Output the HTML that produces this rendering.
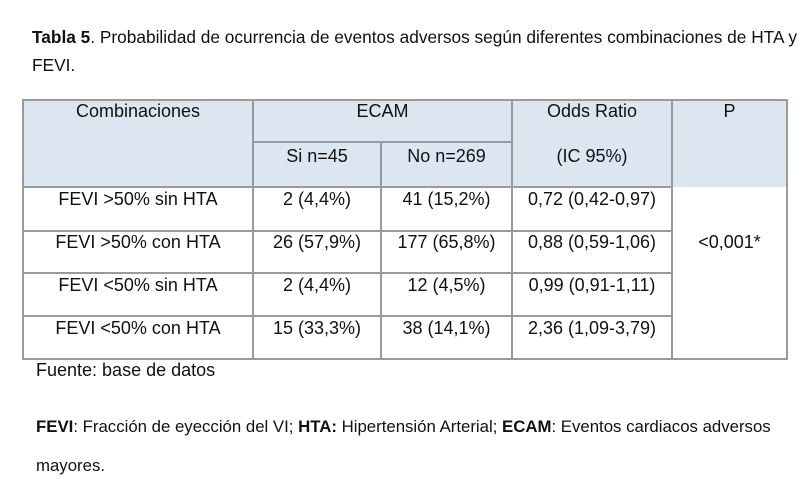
<!DOCTYPE html>
<html><head><meta charset="utf-8"><style>
body{margin:0;width:808px;height:479px;background:#fff;position:relative;overflow:hidden;font-family:"Liberation Sans",Arial,sans-serif;color:#111}
.t{position:absolute;white-space:nowrap}
.c{position:absolute;text-align:center;font-size:18px;line-height:20px;white-space:nowrap}
.h{position:absolute;background:#dce6f1}
.l{position:absolute;background:#9a9a9a}
</style></head><body>
<div class="t" style="left:32px;top:27px;font-size:17.3px">
<b>Tabla 5</b>. Probabilidad de ocurrencia de eventos adversos según diferentes combinaciones de HTA y</div>
<div class="t" style="left:32px;top:55px;font-size:17.3px">FEVI.</div>

<div class="h" style="left:23px;top:100px;width:764px;height:87px"></div>

<div class="l" style="left:23px;top:99px;width:765px;height:2px"></div>
<div class="l" style="left:253px;top:141px;width:259px;height:2px"></div>
<div class="l" style="left:23px;top:186px;width:649px;height:2px"></div>
<div class="l" style="left:23px;top:230px;width:649px;height:2px"></div>
<div class="l" style="left:23px;top:272px;width:649px;height:2px"></div>
<div class="l" style="left:23px;top:315px;width:649px;height:2px"></div>
<div class="l" style="left:23px;top:358px;width:765px;height:2px"></div>
<div class="l" style="left:22px;top:99px;width:2px;height:261px"></div>
<div class="l" style="left:252px;top:99px;width:2px;height:261px"></div>
<div class="l" style="left:380px;top:141px;width:2px;height:219px"></div>
<div class="l" style="left:511px;top:99px;width:2px;height:261px"></div>
<div class="l" style="left:671px;top:99px;width:2px;height:261px"></div>
<div class="l" style="left:786px;top:99px;width:2px;height:261px"></div>

<div class="c" style="left:23px;width:230px;top:101px">Combinaciones</div>
<div class="c" style="left:253px;width:259px;top:101px">ECAM</div>
<div class="c" style="left:253px;width:128px;top:146px">Si n=45</div>
<div class="c" style="left:381px;width:131px;top:146px">No n=269</div>
<div class="c" style="left:512px;width:160px;top:101px">Odds Ratio</div>
<div class="c" style="left:512px;width:160px;top:146px">(IC 95%)</div>
<div class="c" style="left:672px;width:115px;top:101px">P</div>

<div class="c" style="left:23px;width:230px;top:189px">FEVI &gt;50% sin HTA</div>
<div class="c" style="left:253px;width:128px;top:189px">2 (4,4%)</div>
<div class="c" style="left:381px;width:131px;top:189px">41 (15,2%)</div>
<div class="c" style="left:512px;width:160px;top:189px">0,72 (0,42-0,97)</div>

<div class="c" style="left:23px;width:230px;top:232px">FEVI &gt;50% con HTA</div>
<div class="c" style="left:253px;width:128px;top:232px">26 (57,9%)</div>
<div class="c" style="left:381px;width:131px;top:232px">177 (65,8%)</div>
<div class="c" style="left:512px;width:160px;top:232px">0,88 (0,59-1,06)</div>
<div class="c" style="left:672px;width:115px;top:232px">&lt;0,001*</div>

<div class="c" style="left:23px;width:230px;top:275px">FEVI &lt;50% sin HTA</div>
<div class="c" style="left:253px;width:128px;top:275px">2 (4,4%)</div>
<div class="c" style="left:381px;width:131px;top:275px">12 (4,5%)</div>
<div class="c" style="left:512px;width:160px;top:275px">0,99 (0,91-1,11)</div>

<div class="c" style="left:23px;width:230px;top:318px">FEVI &lt;50% con HTA</div>
<div class="c" style="left:253px;width:128px;top:318px">15 (33,3%)</div>
<div class="c" style="left:381px;width:131px;top:318px">38 (14,1%)</div>
<div class="c" style="left:512px;width:160px;top:318px">2,36 (1,09-3,79)</div>

<div class="t" style="left:36px;top:360px;font-size:18px">Fuente: base de datos</div>
<div class="t" style="left:36px;top:417px;font-size:16.8px"><b>FEVI</b>: Fracción de eyección del VI; <b>HTA:</b> Hipertensión Arterial; <b>ECAM</b>: Eventos cardiacos adversos</div>
<div class="t" style="left:36px;top:456px;font-size:16.8px">mayores.</div>
</body></html>
